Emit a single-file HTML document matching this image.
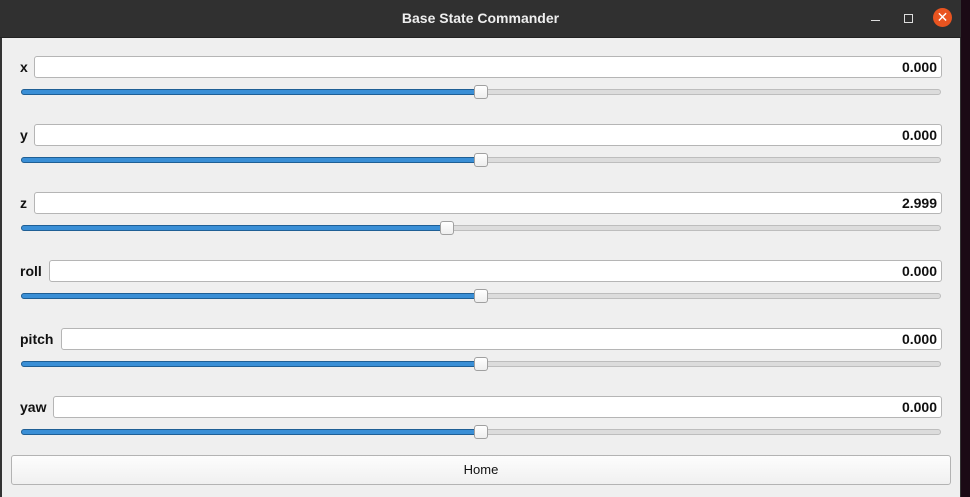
<!DOCTYPE html>
<html><head><meta charset="utf-8"><style>
body{margin:0;width:970px;height:497px;background:#1b0a15;position:relative;overflow:hidden;font-family:"Liberation Sans",sans-serif}
#win{position:absolute;left:0;top:0;width:961px;height:497px;background:#333}
#title{position:absolute;left:0;top:0;width:961px;height:37px;background:#303030;border-bottom:1px solid #222;color:#eee;font-weight:bold;font-size:14px;line-height:37px;text-align:center}
#body{position:absolute;left:2px;top:38px;width:958px;height:459px;background:#efefef}
.lbl{position:absolute;left:20px;font-size:14px;font-weight:bold;color:#111}
.field{position:absolute;height:22px;background:#fff;border:1px solid #b5b5b5;border-radius:3px;box-sizing:border-box;text-align:right;padding-right:4px;font-size:14px;font-weight:bold;line-height:20px;color:#111}
.track{position:absolute;left:21px;width:920px;height:6px;background:#dcdcdc;border:1px solid #bdbdbd;border-radius:3px;box-sizing:border-box}
.fill{position:absolute;left:21px;height:6px;background:#3a8fd6;border:1px solid #1f5f95;border-radius:3px;box-sizing:border-box}
.handle{position:absolute;width:14px;height:14px;background:linear-gradient(#fff,#eee);border:1px solid #a0a0a0;border-radius:3px;box-sizing:border-box}
#home{position:absolute;left:11px;top:455px;width:940px;height:30px;box-sizing:border-box;border:1px solid #b3b3b3;border-radius:3px;background:linear-gradient(#fdfdfd,#f0f0f0);font-size:13px;text-align:center;line-height:28px;color:#111}
</style></head><body>
<div id="win">
<div id="title">Base State Commander</div>
<div style="position:absolute;left:871px;top:20px;width:9px;height:1px;background:#ddd"></div>
<div style="position:absolute;left:904px;top:14px;width:9px;height:9px;border:1px solid #ddd;box-sizing:border-box"></div>
<div style="position:absolute;left:933px;top:8px;width:19px;height:19px;border-radius:50%;background:#e95420;color:#fff;font-size:14px;line-height:19px;text-align:center">✕</div>
</div>
<div id="body"></div>
<div id="rows"></div>
<div id="home">Home</div>
<script>
const names=["x","y","z","roll","pitch","yaw"];
const values=[0,0,2.999,0,0,0];
const fieldLeft=[34,34,34,49,61,53];
const minV=-40,maxV=40;
const root=document.getElementById('rows');
function posX(v){return 28+(maxV-v)/(maxV-minV)*906;}
names.forEach((n,i)=>{
  const top=56+i*68;
  const l=document.createElement('div');l.className='lbl';l.style.top=(top+3)+'px';l.textContent=n;
  
  
  root.appendChild(l);
  const f=document.createElement('div');f.className='field';f.style.top=top+'px';f.style.left=fieldLeft[i]+'px';f.style.width=(942-fieldLeft[i])+'px';f.textContent=values[i].toFixed(3);
  
  
  root.appendChild(f);
  const t=document.createElement('div');t.className='track';t.style.top=(top+33)+'px';
  
  
  root.appendChild(t);
  const cx=posX(values[i]);
  const fl=document.createElement('div');fl.className='fill';fl.style.top=(top+33)+'px';fl.style.width=(cx-21)+'px';
  
  
  root.appendChild(fl);
  const h=document.createElement('div');h.className='handle';h.style.top=(top+29)+'px';h.style.left=(cx-7)+'px';
  
  
  root.appendChild(h);
});
</script>
</body></html>
